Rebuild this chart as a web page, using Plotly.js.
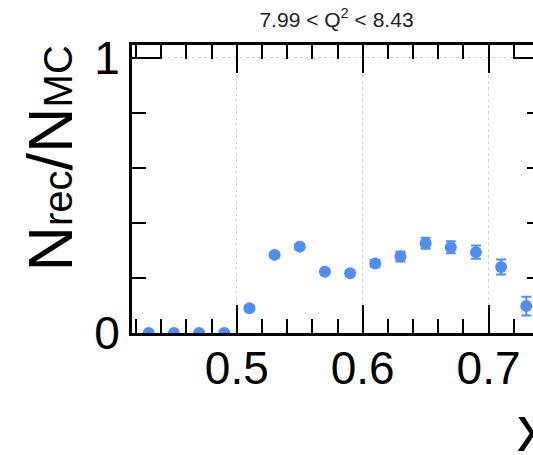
<!DOCTYPE html>
<html>
<head>
<meta charset="utf-8">
<script src="https://cdn.plot.ly/plotly-3.0.1.min.js"></script>
<style>
html, body { margin: 0; padding: 0; overflow: hidden; background: #fff; }
#chart { width: 545px; height: 455px; }
</style>
</head>
<body>
<div id="chart"></div>
<script>
// Data
const xValues = [0.43, 0.45, 0.47, 0.49, 0.51, 0.53, 0.55, 0.57, 0.59, 0.61, 0.63, 0.65, 0.67, 0.69, 0.71, 0.73];
const ratio   = [0.0, 0.0, 0.0, 0.0, 0.090, 0.284, 0.314, 0.223, 0.217, 0.253, 0.278, 0.326, 0.312, 0.294, 0.240, 0.098];
const ratioErr = [0.004, 0.004, 0.004, 0.004, 0.008, 0.010, 0.010, 0.010, 0.010, 0.012, 0.018, 0.020, 0.022, 0.024, 0.027, 0.034];
const xTickVals = [0.5, 0.6, 0.7];
const xTickText = ['0.5', '0.6', '0.7'];
const yTickVals = [0, 1];
const yTickText = ['0', '1'];
const titleText = '7.99 < Q<sup>2</sup> < 8.43';
const yTitleText = 'N<span style="font-size:40px">rec</span>/N<span style="font-size:40px">MC</span>';
const xTitleText = 'x';

const FONT = '"Liberation Sans", Arial, Helvetica, sans-serif';
const BLUE = '#4f8ef6';

const trace = {
  type: 'scatter',
  mode: 'markers',
  x: xValues,
  y: ratio,
  error_y: { type: 'data', array: ratioErr, visible: true, color: BLUE, thickness: 2, width: 5 },
  marker: { color: BLUE, size: 12 },
  hoverinfo: 'x+y'
};

const axisCommon = {
  showline: true, linecolor: '#000', linewidth: 3, mirror: 'ticks',
  ticks: 'inside', ticklen: 28, tickwidth: 2, tickcolor: '#000',
  zeroline: false,
  showgrid: true, gridcolor: '#d4d4d4', griddash: 'dot', gridwidth: 1,
  tickfont: { family: FONT, size: 46, color: '#000' }
};

const layout = {
  width: 545, height: 455,
  margin: { l: 132, r: 4, t: 45, b: 122 },
  paper_bgcolor: '#fff', plot_bgcolor: '#fff',
  showlegend: false,
  font: { family: FONT, color: '#000' },
  title: {
    text: titleText,
    font: { family: FONT, size: 21, color: '#222' },
    x: 0.5, xref: 'paper', xanchor: 'center',
    y: 1 - 12 / 455, yref: 'container', yanchor: 'top'
  },
  xaxis: Object.assign({}, axisCommon, {
    range: [0.4167, 0.7417],
    tickmode: 'array', tickvals: xTickVals, ticktext: xTickText,
    ticklabelstandoff: -7,
    minor: { dtick: 0.02, tick0: 0, ticks: 'inside', ticklen: 14, tickwidth: 2, tickcolor: '#000', showgrid: false }
  }),
  yaxis: Object.assign({}, axisCommon, {
    range: [0, 1.047],
    tickmode: 'array', tickvals: yTickVals, ticktext: yTickText,
    minor: { dtick: 0.2, tick0: 0, ticks: 'inside', ticklen: 14, tickwidth: 2, tickcolor: '#000', showgrid: false }
  }),
  annotations: [
    {
      text: yTitleText, textangle: -90, showarrow: false,
      xref: 'paper', yref: 'paper', x: -0.2, y: 1.006,
      xanchor: 'center', yanchor: 'top',
      font: { family: FONT, size: 63, color: '#000' }
    },
    {
      text: xTitleText, showarrow: false,
      xref: 'paper', yref: 'paper', x: 0.936, y: -0.465,
      xanchor: 'left', yanchor: 'bottom',
      font: { family: FONT, size: 64, color: '#000' }
    }
  ]
};

Plotly.newPlot('chart', [trace], layout, { staticPlot: true, displayModeBar: false });
</script>
</body>
</html>
